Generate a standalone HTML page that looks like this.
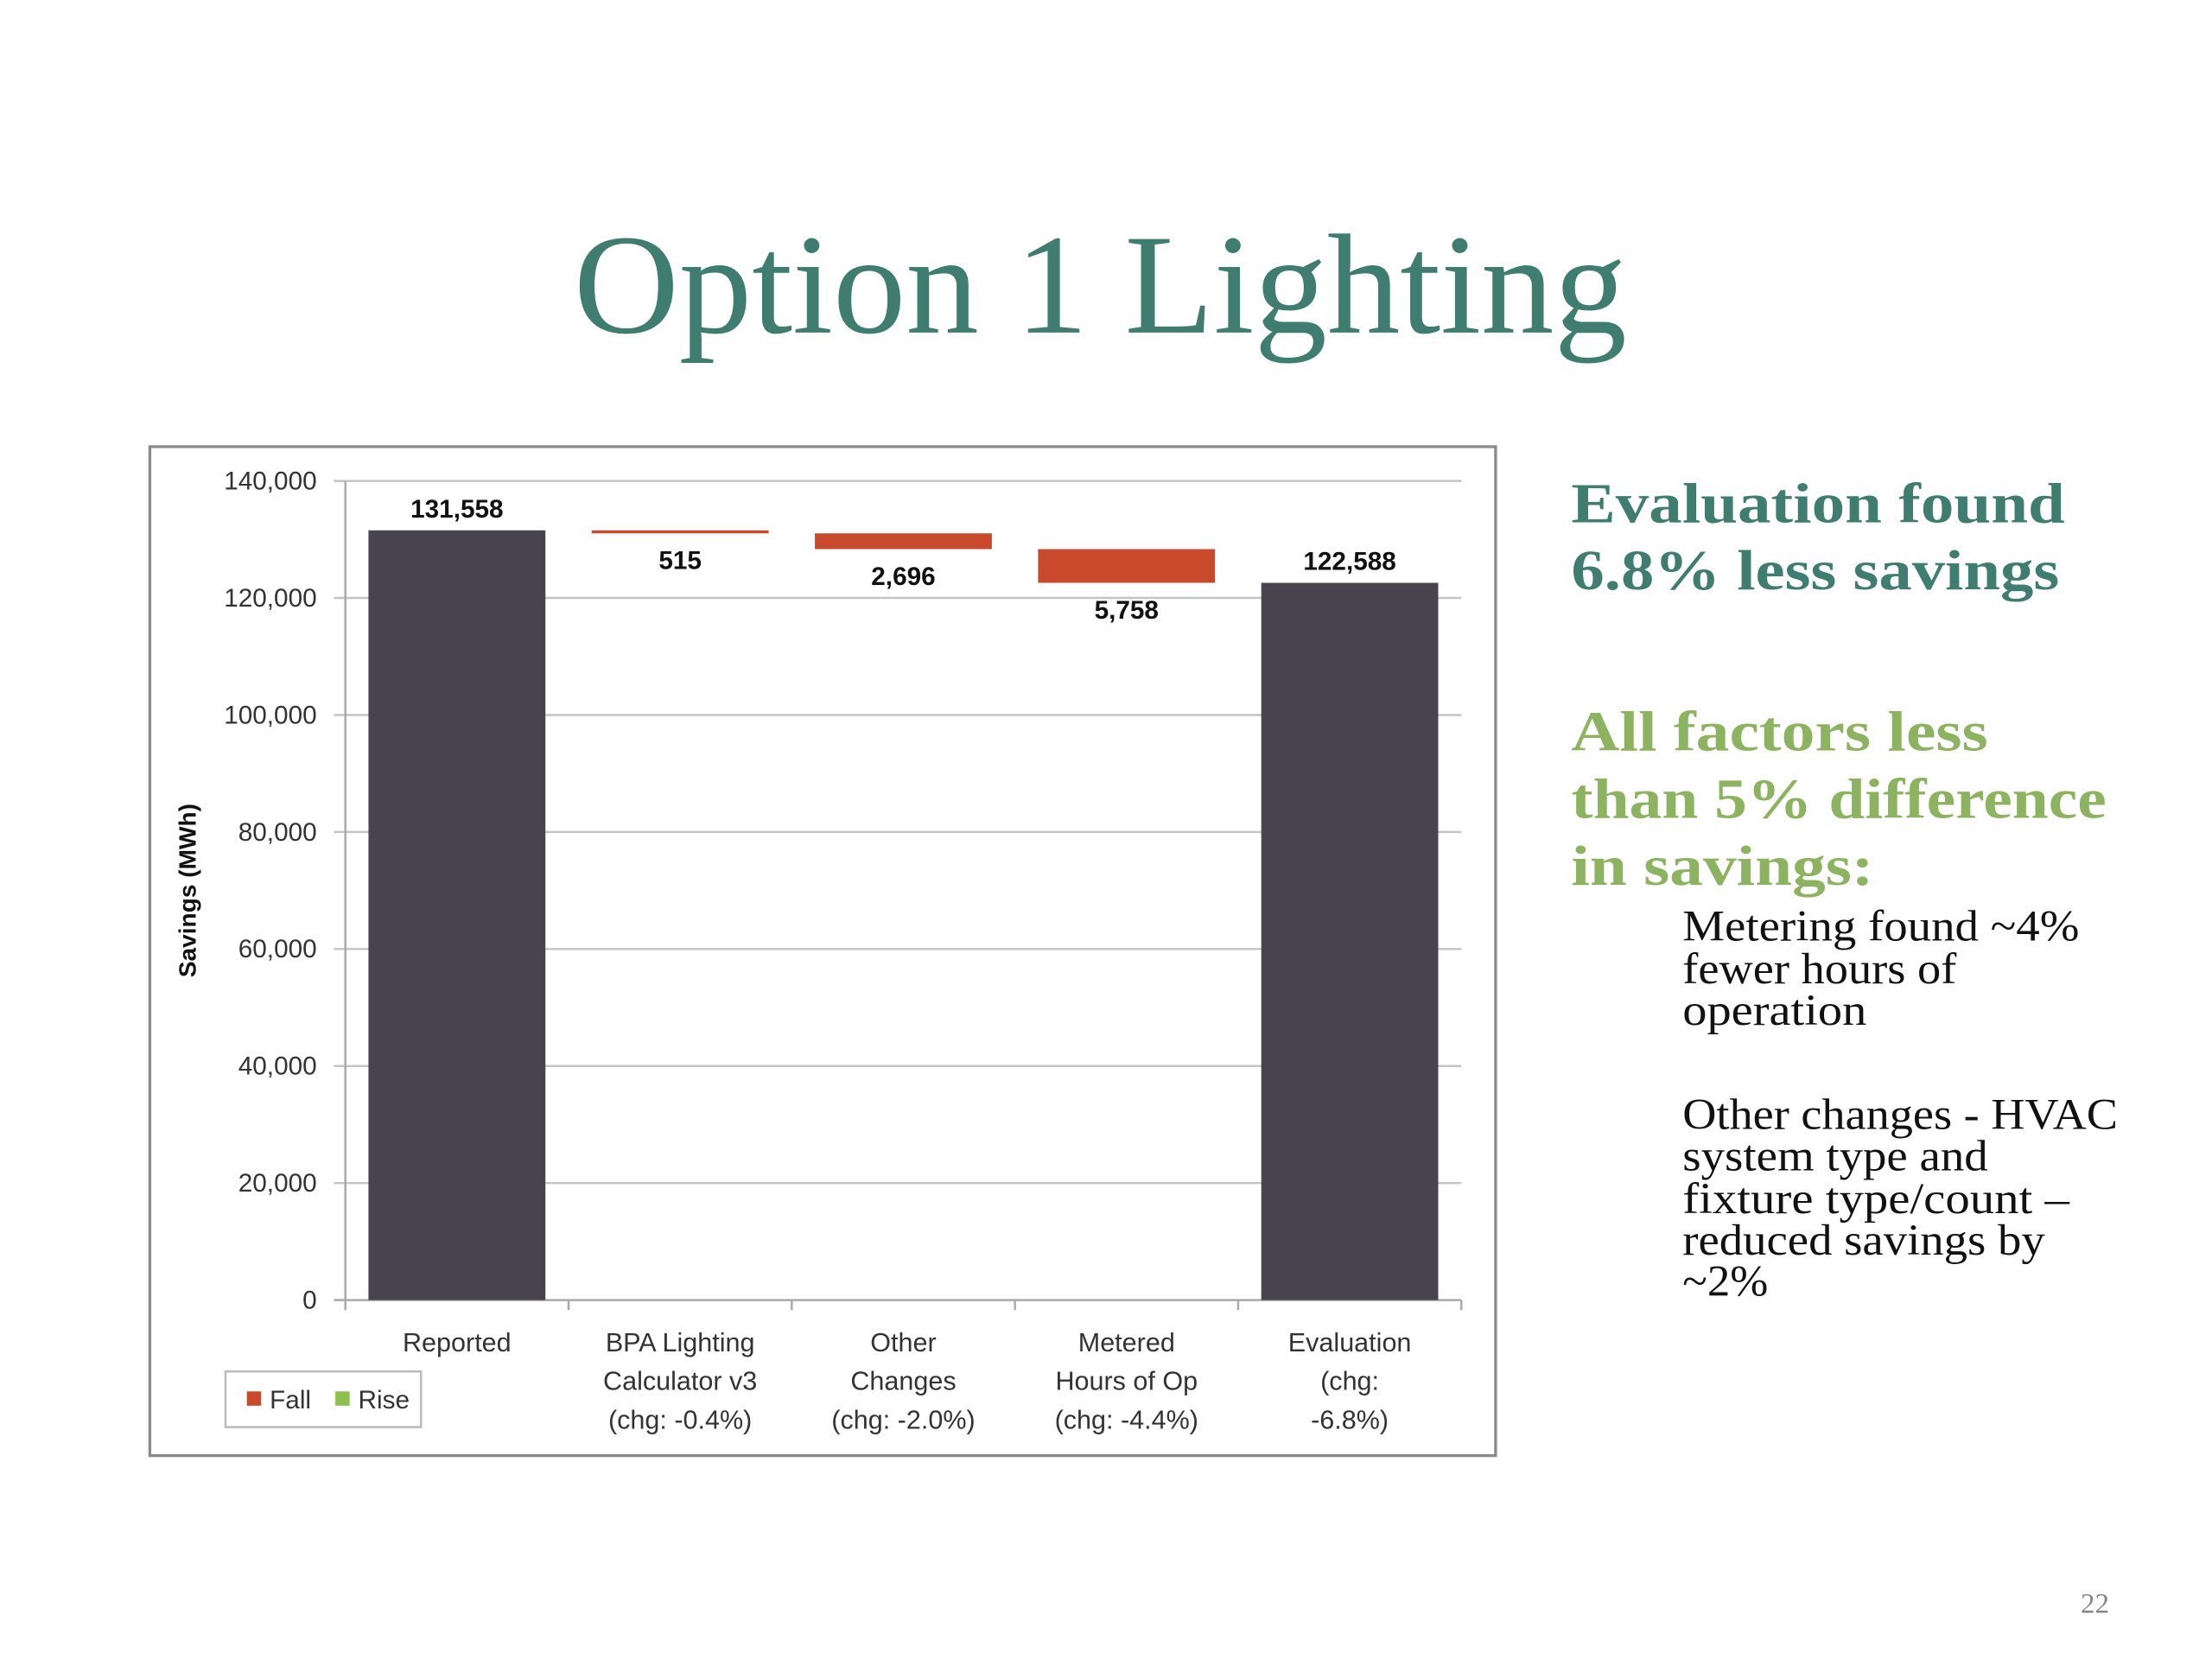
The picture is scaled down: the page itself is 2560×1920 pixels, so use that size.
<!DOCTYPE html>
<html><head><meta charset="utf-8"><style>
html,body{margin:0;padding:0;background:#fff;width:2560px;height:1920px;overflow:hidden}
svg{display:block}
</style></head><body>
<svg id="s" width="2560" height="1920" viewBox="0 0 1550 1162.5" xmlns="http://www.w3.org/2000/svg">
<text x="771" y="233" text-anchor="middle" font-family="Liberation Serif, serif" font-size="100" fill="#3f7d70" textLength="738" lengthAdjust="spacingAndGlyphs">Option 1 Lighting</text>
<rect x="105" y="313" width="943" height="707" fill="#fff" stroke="#8a8a8a" stroke-width="2"/>
<g id="chart" font-family="Liberation Sans, sans-serif"></g>
<text transform="translate(137,624) rotate(-90)" text-anchor="middle" font-family="Liberation Sans, sans-serif" font-weight="bold" font-size="17" fill="#111">Savings (MWh)</text>
<g>
<rect x="158" y="961" width="137" height="39" fill="#fff" stroke="#bbb" stroke-width="1.5"/>
<rect x="173" y="975" width="10" height="10" fill="#c8492c"/>
<text x="189" y="987" font-family="Liberation Sans, sans-serif" font-size="18" fill="#333">Fall</text>
<rect x="235" y="975" width="10" height="10" fill="#8cbf4e"/>
<text x="251" y="987" font-family="Liberation Sans, sans-serif" font-size="18" fill="#333">Rise</text>
</g>
<g font-family="Liberation Serif, serif" font-weight="bold" font-size="40" fill="#3f7d70">
<text x="1101" y="366" textLength="346" lengthAdjust="spacingAndGlyphs">Evaluation found</text>
<text x="1101" y="413" textLength="342" lengthAdjust="spacingAndGlyphs">6.8% less savings</text>
</g>
<g font-family="Liberation Serif, serif" font-weight="bold" font-size="40" fill="#8cb35f">
<text x="1101" y="526" textLength="292" lengthAdjust="spacingAndGlyphs">All factors less</text>
<text x="1101" y="573" textLength="375" lengthAdjust="spacingAndGlyphs">than 5% difference</text>
<text x="1101" y="620" textLength="212" lengthAdjust="spacingAndGlyphs">in savings:</text>
</g>
<g font-family="Liberation Serif, serif" font-size="31" fill="#111">
<text x="1179" y="659" textLength="278" lengthAdjust="spacingAndGlyphs">Metering found ~4%</text>
<text x="1179" y="689" textLength="192" lengthAdjust="spacingAndGlyphs">fewer hours of</text>
<text x="1179" y="718" textLength="129" lengthAdjust="spacingAndGlyphs">operation</text>
<text x="1179" y="791" textLength="305" lengthAdjust="spacingAndGlyphs">Other changes - HVAC</text>
<text x="1179" y="820" textLength="214" lengthAdjust="spacingAndGlyphs">system type and</text>
<text x="1179" y="850" textLength="271" lengthAdjust="spacingAndGlyphs">fixture type/count –</text>
<text x="1179" y="879" textLength="254" lengthAdjust="spacingAndGlyphs">reduced savings by</text>
<text x="1179" y="908" textLength="60" lengthAdjust="spacingAndGlyphs">~2%</text>
</g>
<text x="1458" y="1130" font-family="Liberation Serif, serif" font-size="20" fill="#888">22</text>
</svg>
<script>
const categories=[["Reported"],["BPA Lighting","Calculator v3","(chg: -0.4%)"],["Other","Changes","(chg: -2.0%)"],["Metered","Hours of Op","(chg: -4.4%)"],["Evaluation","(chg:","-6.8%)"]];
const totals=[131558,null,null,null,122588];
const falls=[null,515,2696,5758,null];
const tickValues=[0,20000,40000,60000,80000,100000,120000,140000];
const tickLabels=["0","20,000","40,000","60,000","80,000","100,000","120,000","140,000"];
const valueLabels=["131,558","515","2,696","5,758","122,588"];

const NS="http://www.w3.org/2000/svg";
const g=document.getElementById('chart');
const X0=242,X1=1024,Y0=911,Y1=337,YMAX=140000;
const bw=(X1-X0)/categories.length;
function y(v){return Y0-(v/YMAX)*(Y0-Y1);}
function xc(i){return X0+bw*(i+0.5);}
function el(t,a){const e=document.createElementNS(NS,t);for(const k in a)e.setAttribute(k,a[k]);g.appendChild(e);return e;}
tickValues.forEach((v,i)=>{
  const l=el('line',{x1:X0-8,x2:X1,y1:y(v),y2:y(v),stroke:v===0?'#aaa':'#c4c4c4','stroke-width':1.5});
  
  
  const t=el('text',{x:222,y:y(v)+6,'text-anchor':'end','font-size':18,fill:'#333'});
  t.textContent=tickLabels[i];
  
  
});
const ax=el('line',{x1:X0,x2:X0,y1:Y1,y2:Y0,stroke:'#aaa','stroke-width':1.5});


for(let i=0;i<=categories.length;i++){
  const tk=el('line',{x1:X0+bw*i,x2:X0+bw*i,y1:Y0,y2:Y0+7,stroke:'#aaa','stroke-width':1.5});
  
  
}
let running=0;
const barW=124;
categories.forEach((c,i)=>{
  const cx=xc(i);
  if(totals[i]!=null){
    running=totals[i];
    const r=el('rect',{x:cx-barW/2,y:y(totals[i]),width:barW,height:Y0-y(totals[i]),fill:'#48444f'});
    
    
    const t=el('text',{x:cx,y:y(totals[i])-9,'text-anchor':'middle','font-size':18,'font-weight':'bold',fill:'#111'});
    t.textContent=valueLabels[i];
    
    
  } else {
    const top=running,bot=running-falls[i];
    running=bot;
    const h=Math.max(y(bot)-y(top),2);
    const r=el('rect',{x:cx-barW/2,y:y(top),width:barW,height:h,fill:'#c8492c'});
    
    
    const t=el('text',{x:cx,y:y(top)+h+25,'text-anchor':'middle','font-size':18,'font-weight':'bold',fill:'#111'});
    t.textContent=valueLabels[i];
    
    
  }
  c.forEach((line,j)=>{
    const t=el('text',{x:cx,y:947+j*27,'text-anchor':'middle','font-size':18.5,fill:'#333'});
    t.textContent=line;
    
    
  });
});
</script>
</body></html>
